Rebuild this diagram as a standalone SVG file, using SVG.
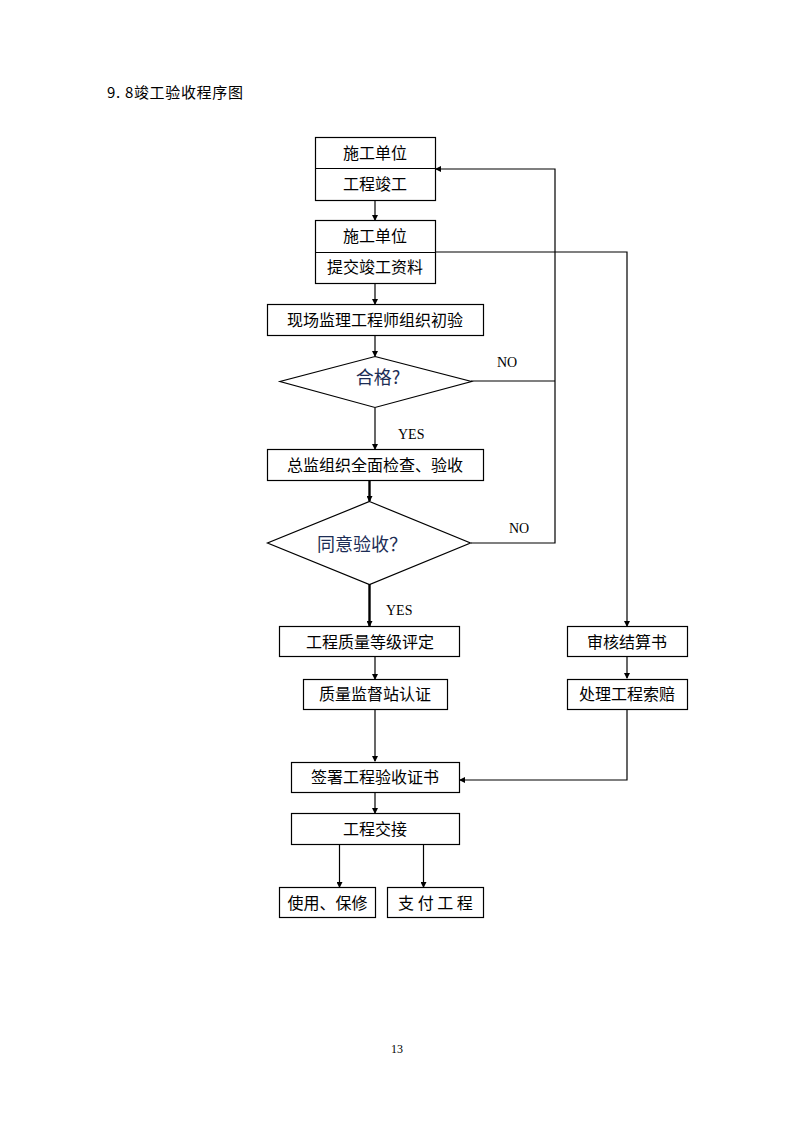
<svg xmlns="http://www.w3.org/2000/svg" width="794" height="1123" viewBox="0 0 794 1123">
<style>
.b{fill:#fff;stroke:#000;stroke-width:1.2}
.c{stroke:#000;stroke-width:1.2;fill:none}
.t{stroke:#000;stroke-width:2.4;fill:none}
.x{font-family:"Noto Sans CJK SC","Noto Sans",sans-serif;font-size:16px;fill:#000;text-anchor:middle}
.q{font-family:"Noto Sans CJK SC","Noto Sans",sans-serif;font-size:18px;fill:#1c2d55;text-anchor:middle}
.e{font-family:"Liberation Serif",serif;font-size:14px;fill:#000}
</style>
<defs>
<marker id="a" markerWidth="6" markerHeight="6" refX="5" refY="3" orient="auto" markerUnits="userSpaceOnUse">
<path d="M0,0 L6,3 L0,6 z" fill="#000"/>
</marker>
</defs>
<rect width="794" height="1123" fill="#fff"/>
<text x="107" y="98" font-family="Noto Sans CJK SC,sans-serif" font-size="15" textLength="136" lengthAdjust="spacing">9. 8竣工验收程序图</text>

<g id="connectors">
<line class="c" x1="375" y1="200" x2="375" y2="220" marker-end="url(#a)"/>
<polyline class="c" points="435,252 627,252 627,626" marker-end="url(#a)"/>
<line class="c" x1="375" y1="283" x2="375" y2="304" marker-end="url(#a)"/>
<line class="c" x1="375" y1="335" x2="375" y2="356" marker-end="url(#a)"/>
<polyline class="c" points="471,381 555,381"/>
<polyline class="c" points="471,543 555,543 555,169 436,169" marker-end="url(#a)"/>
<line class="c" x1="375" y1="408" x2="375" y2="449" marker-end="url(#a)"/>
<line class="t" x1="369.5" y1="480" x2="369.5" y2="501" marker-end="url(#a)"/>
<line class="t" x1="369.5" y1="584" x2="369.5" y2="626" marker-end="url(#a)"/>
<line class="c" x1="375" y1="657" x2="375" y2="679" marker-end="url(#a)"/>
<line class="c" x1="375" y1="709" x2="375" y2="761" marker-end="url(#a)"/>
<line class="c" x1="627" y1="657" x2="627" y2="678" marker-end="url(#a)"/>
<polyline class="c" points="627,709 627,780 460,780" marker-end="url(#a)"/>
<line class="c" x1="375" y1="792" x2="375" y2="813" marker-end="url(#a)"/>
<line class="c" x1="339.5" y1="844" x2="339.5" y2="887" marker-end="url(#a)"/>
<line class="c" x1="423.5" y1="844" x2="423.5" y2="887" marker-end="url(#a)"/>
<text class="e" x="497" y="367">NO</text>
<text class="e" x="398" y="439">YES</text>
<text class="e" x="509" y="533">NO</text>
<text class="e" x="386" y="615">YES</text>
</g>

<g id="n1">
<rect class="b" x="315.5" y="137.5" width="120" height="63"/>
<line class="c" x1="315.5" y1="168.5" x2="435.5" y2="168.5"/>
<text class="x" x="375" y="159">施工单位</text>
<text class="x" x="375" y="190">工程竣工</text>
</g>
<g id="n2">
<rect class="b" x="315.5" y="220.5" width="120" height="63"/>
<line class="c" x1="315.5" y1="252.5" x2="435.5" y2="252.5"/>
<text class="x" x="375" y="242">施工单位</text>
<text class="x" x="375" y="273">提交竣工资料</text>
</g>
<g id="n3">
<rect class="b" x="267.5" y="304.5" width="216" height="31"/>
<text class="x" x="375" y="326">现场监理工程师组织初验</text>
</g>
<g id="n4">
<polygon class="b" points="375,356.5 471.5,381.5 375,407.5 280,381.5"/>
<text class="q" x="378" y="384">合格?</text>
</g>
<g id="n5">
<rect class="b" x="267.5" y="449.5" width="216" height="31"/>
<text class="x" x="375" y="471">总监组织全面检查、验收</text>
</g>
<g id="n6">
<polygon class="b" points="369.5,501.5 470.5,543 369.5,584.5 267.5,543"/>
<text class="q" x="362" y="551">同意验收？</text>
</g>
<g id="n7">
<rect class="b" x="279.5" y="626.5" width="180" height="30"/>
<text class="x" x="370" y="648">工程质量等级评定</text>
</g>
<g id="n8">
<rect class="b" x="303.5" y="679.5" width="144" height="30"/>
<text class="x" x="375" y="700">质量监督站认证</text>
</g>
<g id="n9">
<rect class="b" x="567.5" y="626.5" width="120" height="30"/>
<text class="x" x="627" y="648">审核结算书</text>
</g>
<g id="n10">
<rect class="b" x="567.5" y="679.5" width="120" height="30"/>
<text class="x" x="627" y="700">处理工程索赔</text>
</g>
<g id="n11">
<rect class="b" x="291.5" y="762.5" width="168" height="30"/>
<text class="x" x="375" y="783">签署工程验收证书</text>
</g>
<g id="n12">
<rect class="b" x="291.5" y="813.5" width="168" height="31"/>
<text class="x" x="375" y="835">工程交接</text>
</g>
<g id="n13">
<rect class="b" x="279.5" y="887.5" width="96" height="30"/>
<text class="x" x="327.5" y="909">使用、保修</text>
</g>
<g id="n14">
<rect class="b" x="387.5" y="887.5" width="96" height="30"/>
<text class="x" x="435.5" y="909">支 付 工 程</text>
</g>
<text x="397" y="1053" font-family="Liberation Serif,serif" font-size="12" text-anchor="middle">13</text>
</svg>
